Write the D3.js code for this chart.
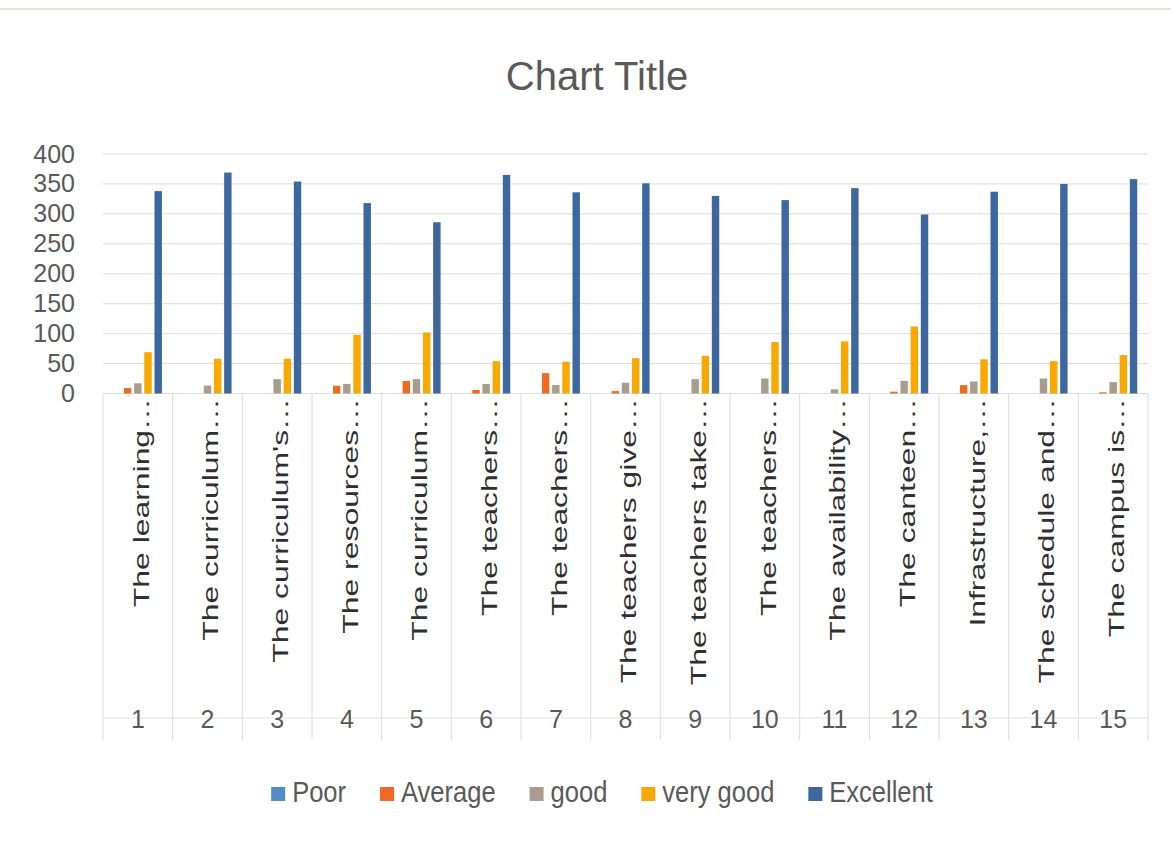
<!DOCTYPE html>
<html>
<head>
<meta charset="utf-8">
<script src="https://cdn.jsdelivr.net/npm/d3@7"></script>
<style>
  body { margin: 0; background: #fff; }
  svg { display: block; font-family: "Liberation Sans", Arial, sans-serif; }
</style>
</head>
<body>
<svg id="chart" width="1171" height="848"></svg>
<script>
// data
const categories = ["1", "2", "3", "4", "5", "6", "7", "8", "9", "10", "11", "12", "13", "14", "15"];
const categoryLabels = ["The learning…", "The curriculum…", "The curriculum's…", "The resources…",
  "The curriculum…", "The teachers…", "The teachers…", "The teachers give…", "The teachers take…",
  "The teachers…", "The availability…", "The canteen…", "Infrastructure,…", "The schedule and…", "The campus is…"];
const seriesNames = ["Poor", "Average", "good", "very good", "Excellent"];
const poor      = [0, 0, 0, 0, 0, 0, 0, 0, 0, 0, 0, 0, 0, 0, 0];
const average   = [9, 0, 0, 13, 21, 6, 34, 4, 0, 0, 0, 3, 14, 0, 2];
const good      = [17, 13, 24, 16, 24, 16, 14, 18, 24, 25, 7, 21, 20, 25, 19];
const veryGood  = [69, 58, 58, 98, 102, 54, 53, 59, 63, 86, 87, 112, 57, 54, 64];
const excellent = [338, 369, 354, 318, 286, 365, 336, 351, 330, 323, 343, 299, 337, 350, 358];
const yTicks = [0, 50, 100, 150, 200, 250, 300, 350, 400];

const seriesValues = [poor, average, good, veryGood, excellent];
const colors = ["#4f8fc4", "#ee6a22", "#a89c8c", "#f9a800", "#3c679f"];

const svg = d3.select("#chart");
const margin = { top: 154, right: 23, bottom: 454.5, left: 103 };
const width = 1171, height = 848;
const textColor = "#595959";

const x = d3.scaleBand()
  .domain(categories)
  .range([margin.left, width - margin.right])
  .padding(0);

const x1 = d3.scaleBand()
  .domain(seriesNames)
  .range([8, x.bandwidth() - 8])
  .padding(0.27);

const y = d3.scaleLinear()
  .domain([0, 400])
  .range([height - margin.bottom, margin.top]);

// faint border line at top
svg.append("line")
  .attr("x1", 0).attr("x2", width)
  .attr("y1", 9).attr("y2", 9)
  .attr("stroke", "#ebe3d3").attr("stroke-width", 2);

// title
svg.append("text")
  .attr("x", 597).attr("y", 90)
  .attr("text-anchor", "middle")
  .style("font-size", "40px")
  .attr("fill", textColor)
  .text("Chart Title");

// gridlines
svg.append("g")
  .selectAll("line")
  .data(yTicks)
  .join("line")
  .attr("x1", margin.left).attr("x2", width - margin.right)
  .attr("y1", d => y(d)).attr("y2", d => y(d))
  .attr("stroke", "#dcdcdc").attr("stroke-width", 1);

// y axis
const yAxis = svg.append("g")
  .attr("transform", `translate(${margin.left},0)`)
  .call(d3.axisLeft(y).tickValues(yTicks).tickSize(0).tickPadding(28));
yAxis.select(".domain").remove();
yAxis.selectAll("text")
  .style("font-size", "25px")
  .style("font-family", "'Liberation Sans', Arial, sans-serif")
  .attr("fill", textColor);

// category separators
const bounds = categories.map(c => x(c)).concat([x(categories[categories.length - 1]) + x.bandwidth()]);
svg.append("g")
  .selectAll("line")
  .data(bounds)
  .join("line")
  .attr("x1", d => d).attr("x2", d => d)
  .attr("y1", y(0)).attr("y2", 740)
  .attr("stroke", "#dcdcdc").attr("stroke-width", 1);

// second level line
svg.append("line")
  .attr("x1", margin.left).attr("x2", width - margin.right)
  .attr("y1", 718).attr("y2", 718)
  .attr("stroke", "#e2e2e2").attr("stroke-width", 1);

// bars
const groups = svg.append("g")
  .selectAll("g")
  .data(categories)
  .join("g")
  .attr("transform", d => `translate(${x(d)},0)`);

groups.selectAll("rect")
  .data((c, i) => seriesNames.map((s, j) => ({ series: s, value: seriesValues[j][i], color: colors[j] })))
  .join("rect")
  .attr("x", d => x1(d.series))
  .attr("y", d => y(d.value))
  .attr("width", x1.bandwidth())
  .attr("height", d => y(0) - y(d.value))
  .attr("fill", d => d.color);

// rotated category labels
svg.append("g")
  .selectAll("text")
  .data(categoryLabels)
  .join("text")
  .attr("transform", (d, i) => `translate(${x(categories[i]) + x.bandwidth() / 2 + 2},398) rotate(-90) scale(1.45,1)`)
  .attr("text-anchor", "end")
  .attr("dy", "0.4em")
  .style("font-size", "22px")
  .attr("fill", "#2f2f2f")
  .text(d => d);

// numbers under labels
const xAxis = svg.append("g")
  .attr("transform", "translate(0,710)")
  .call(d3.axisBottom(x).tickSize(0).tickPadding(0));
xAxis.select(".domain").remove();
xAxis.selectAll("text")
  .style("font-size", "25px")
  .style("font-family", "'Liberation Sans', Arial, sans-serif")
  .attr("fill", textColor);

// legend (condensed text like the original)
const legend = svg.append("g");
const squeeze = 0.88;
let lx = 0;
seriesNames.forEach((name, j) => {
  const item = legend.append("g").attr("transform", `translate(${lx},0)`);
  item.append("rect")
    .attr("x", 0).attr("y", -15)
    .attr("width", 14).attr("height", 14)
    .attr("fill", colors[j]);
  const t = item.append("text")
    .attr("transform", `translate(21,0) scale(${squeeze},1)`)
    .style("font-size", "29px")
    .attr("fill", textColor)
    .text(name);
  lx += 21 + t.node().getComputedTextLength() * squeeze + 34;
});
const legendWidth = lx - 34;
legend.attr("transform", `translate(${602 - legendWidth / 2},802)`);
</script>
</body>
</html>
